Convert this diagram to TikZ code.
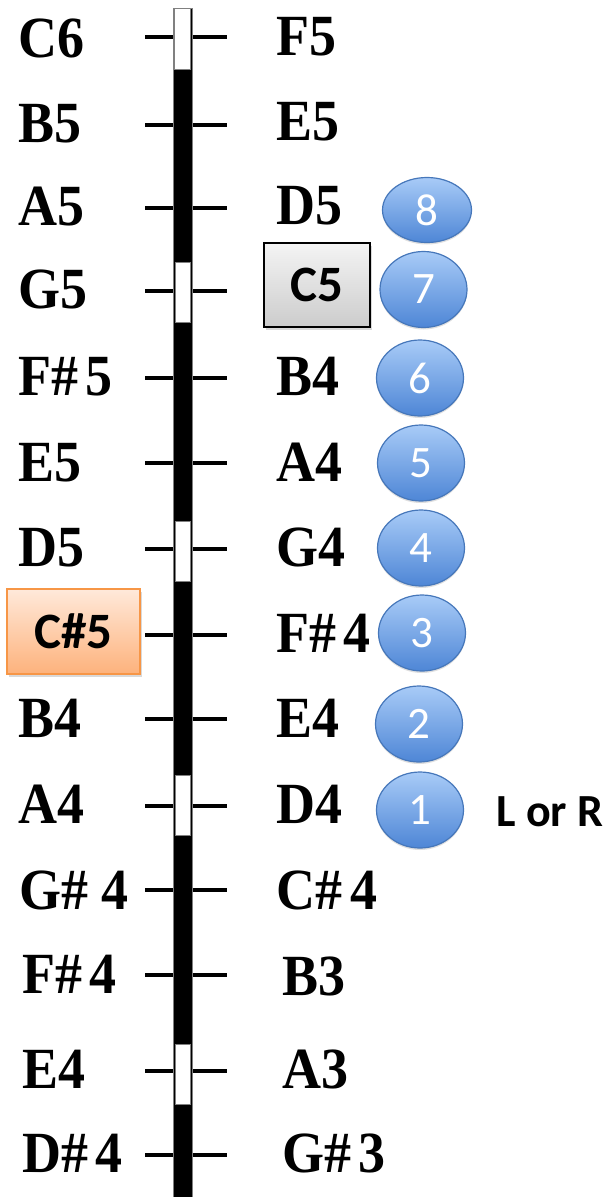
\documentclass[tikz,border=0pt]{standalone}
\usepackage{fontspec}
\setmainfont{Liberation Serif}
\newfontfamily\calfont{Carlito}
\usetikzlibrary{shadows,shapes.geometric}
\definecolor{bluetop}{HTML}{A8CBF7}
\definecolor{bluebot}{HTML}{4E86D6}
\definecolor{blueline}{HTML}{4677BA}
\definecolor{orangetop}{HTML}{FFE9DA}
\definecolor{orangebot}{HTML}{FDB27C}
\definecolor{orangeline}{HTML}{F79646}
\definecolor{graytop}{HTML}{F4F4F4}
\definecolor{graybot}{HTML}{CCCCCC}
\newcommand{\tallnote}[1]{\scalebox{1}[1.08]{#1}}
\tikzset{
  note/.style={font=\fontsize{54}{58}\selectfont\bfseries, inner sep=0pt, anchor=base west},
  tick/.style={line width=4pt},
  gap/.style={fill=white, draw=gray, line width=0.8pt},
  num/.style={ellipse, minimum width=87pt, minimum height=76pt, inner sep=0pt,
    top color=bluetop, bottom color=bluebot, draw=blueline, line width=1.2pt,
    text=white, font=\calfont\fontsize{45}{48}\selectfont,
    drop shadow={shadow xshift=0pt, shadow yshift=-2pt, opacity=0.25}},
  keybox/.style={rectangle, inner sep=0pt, font=\calfont\fontsize{51}{54}\selectfont\bfseries,
    drop shadow={shadow xshift=2pt, shadow yshift=-3pt, opacity=0.3}},
}
\begin{document}
\begin{tikzpicture}[x=1pt,y=-1pt]
\useasboundingbox (0,0) rectangle (609,1197);
% tick coordinates
\foreach \n/\y in {1/37,2/125,3/208,4/291,5/378,6/463,7/549,8/635,9/719,10/806,11/890,12/975,13/1071,14/1155}{
  \coordinate (ta\n) at (145,\y);
  \coordinate (tb\n) at (227,\y);
}
\foreach \n in {1,...,14}{ \draw[tick] (ta\n) -- (tb\n); }
% bar
\fill[black] (173,8) rectangle (192,1197);
\draw[gray, line width=0.6pt] (173,8) -- (173,1197) (192,8) -- (192,1197) (173,8) -- (192,8);
\draw[gap] (174.5,8.5) rectangle (190.5,69);
\draw[gap] (175,262) rectangle (190,322);
\draw[gap] (175,521) rectangle (190,581);
\draw[gap] (175,775) rectangle (190,835);
\draw[gap] (175,1044) rectangle (190,1104);
% left labels
\node[note] (l1) at (18,57) {\tallnote{C6}};
\node[note] (l2) at (18,142) {\tallnote{B5}};
\node[note] (l3) at (18,225) {\tallnote{A5}};
\node[note] (l4) at (18,308) {\tallnote{G5}};
\node[note] (l5) at (18,395) {\tallnote{F\#\hspace{0.13em}5}};
\node[note] (l6) at (18,481) {\tallnote{E5}};
\node[note] (l7) at (18,566) {\tallnote{D5}};
\node[note] (l9) at (18,737) {\tallnote{B4}};
\node[note] (l10) at (18,823) {\tallnote{A4}};
\node[note] (l11) at (19,909) {\tallnote{G\# 4}};
\node[note] (l12) at (22,993) {\tallnote{F\#\hspace{0.13em}4}};
\node[note] (l13) at (22,1088) {\tallnote{E4}};
\node[note] (l14) at (22,1172) {\tallnote{D\#\hspace{0.13em}4}};
% right labels
\node[note] (r1) at (276,55) {\tallnote{F5}};
\node[note] (r2) at (276,140) {\tallnote{E5}};
\node[note] (r3) at (276,224) {\tallnote{D5}};
\node[note] (r5) at (276,395) {\tallnote{B4}};
\node[note] (r6) at (276,481) {\tallnote{A4}};
\node[note] (r7) at (276,566) {\tallnote{G4}};
\node[note] (r8) at (276,652) {\tallnote{F\#\hspace{0.13em}4}};
\node[note] (r9) at (276,737) {\tallnote{E4}};
\node[note] (r10) at (276,823) {\tallnote{D4}};
\node[note] (r11) at (276,909) {\tallnote{C\#\hspace{0.16em}4}};
\node[note] (r12) at (282,995) {\tallnote{B3}};
\node[note] (r13) at (282,1088) {\tallnote{A3}};
\node[note] (r14) at (282,1172) {\tallnote{G\#\hspace{0.13em}3}};
% boxes
\node[keybox, minimum width=133pt, minimum height=85pt, top color=orangetop, bottom color=orangebot, draw=orangeline, line width=1.5pt] (cs5) at (73.5,631.5) {C\#5};
\node[keybox, minimum width=106pt, minimum height=84pt, top color=graytop, bottom color=graybot, draw=black, line width=1.3pt] (c5) at (317,285) {C5};
% finger numbers
\node[num, minimum width=89pt, minimum height=65pt] (n8) at (427,210) {8};
\node[num] (n7) at (423.5,289.5) {7};
\node[num] (n6) at (420,378) {6};
\node[num] (n5) at (421,463) {5};
\node[num] (n4) at (421,548) {4};
\node[num] (n3) at (422,633) {3};
\node[num] (n2) at (419,724) {2};
\node[num] (n1) at (420,810) {1};
\node[font=\calfont\fontsize{46}{50}\selectfont\bfseries, anchor=west, inner sep=0pt] (lr) at (496,812) {L or R};
\end{tikzpicture}
\end{document}
